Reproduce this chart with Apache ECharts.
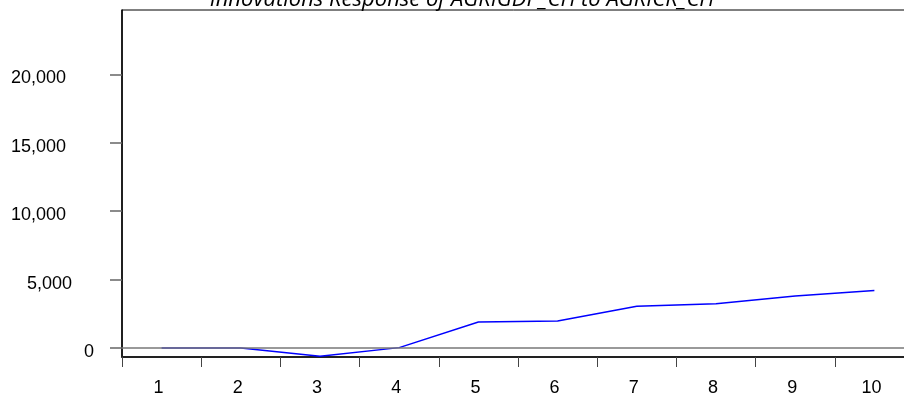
<!DOCTYPE html>
<html>
<head>
<meta charset="utf-8">
<script src="https://cdn.jsdelivr.net/npm/echarts@6/dist/echarts.min.js"></script>
<style>html,body{margin:0;padding:0;background:#fff}#c{width:904px;height:396px}</style>
</head>
<body>
<div id="c"></div>
<script>
const titleText = 'Innovations Response of AGRIGDP_CH to AGRICR_CH';
const categories = ['1','2','3','4','5','6','7','8','9','10'];
const responseValues = [0, 0, -610, 25, 1900, 1975, 3050, 3240, 3800, 4195];
const yTickValues = [0, 5000, 10000, 15000, 20000];
const yMin = -660;
const yMax = 24700;

const chart = echarts.init(document.getElementById('c'));
chart.setOption({
  animation: false,
  backgroundColor: '#fff',
  title: {
    text: titleText,
    left: 457,
    textAlign: 'center',
    top: -16,
    textStyle: { fontFamily: 'Open Sans', fontStyle: 'italic', fontWeight: 'normal', fontSize: 22, color: '#000' }
  },
  grid: { left: 122, top: 10, width: 792, bottom: 39, outerBoundsMode: 'none', containLabel: false, show: true, borderColor: '#000', borderWidth: 1, backgroundColor: 'transparent' },
  xAxis: {
    type: 'category',
    data: categories,
    boundaryGap: true,
    axisLine: { onZero: false, lineStyle: { color: '#222', width: 2 } },
    axisTick: { show: true, inside: false, length: 10, alignWithLabel: false, lineStyle: { color: '#444', width: 1 } },
    axisLabel: { margin: 22, padding: [0, 6, 0, 0], fontFamily: 'Liberation Sans', fontSize: 18, color: '#000' },
    splitLine: { show: false }
  },
  yAxis: {
    type: 'value',
    min: yMin,
    max: yMax,
    axisLine: { show: true, onZero: false, lineStyle: { color: '#000', width: 1.5 } },
    axisTick: { show: true, length: 12, customValues: yTickValues, lineStyle: { color: '#666', width: 1.5 } },
    axisLabel: {
      customValues: yTickValues,
      margin: 28,
      align: 'right',
      fontFamily: 'Liberation Sans', fontSize: 18, color: '#000',
      formatter: function (v) {
        const s = v.toLocaleString('en-US');
        if (s.length >= 6) return '{l6|' + s + '}';
        if (s.length === 5) return '{l5|' + s + '}';
        return '{l1|' + s + '}';
      },
      rich: {
        l6: { fontFamily: 'Liberation Sans', fontSize: 18, color: '#000', padding: [8, 28, 0, 0] },
        l5: { fontFamily: 'Liberation Sans', fontSize: 18, color: '#000', padding: [8, 22, 0, 0] },
        l1: { fontFamily: 'Liberation Sans', fontSize: 18, color: '#000', padding: [8, 0, 0, 0] }
      }
    },
    splitLine: { show: false }
  },
  series: [
    {
      type: 'line',
      data: [],
      z: 1,
      silent: true,
      markLine: {
        silent: true,
        symbol: 'none',
        label: { show: false },
        lineStyle: { color: '#777', width: 1.5, type: 'solid' },
        data: [{ yAxis: 0 }]
      }
    },
    {
      type: 'line',
      data: responseValues,
      z: 3,
      symbol: 'none',
      lineStyle: { color: '#0000ff', width: 1.5 },
      itemStyle: { color: '#0000ff' }
    }
  ]
});
</script>
</body>
</html>
